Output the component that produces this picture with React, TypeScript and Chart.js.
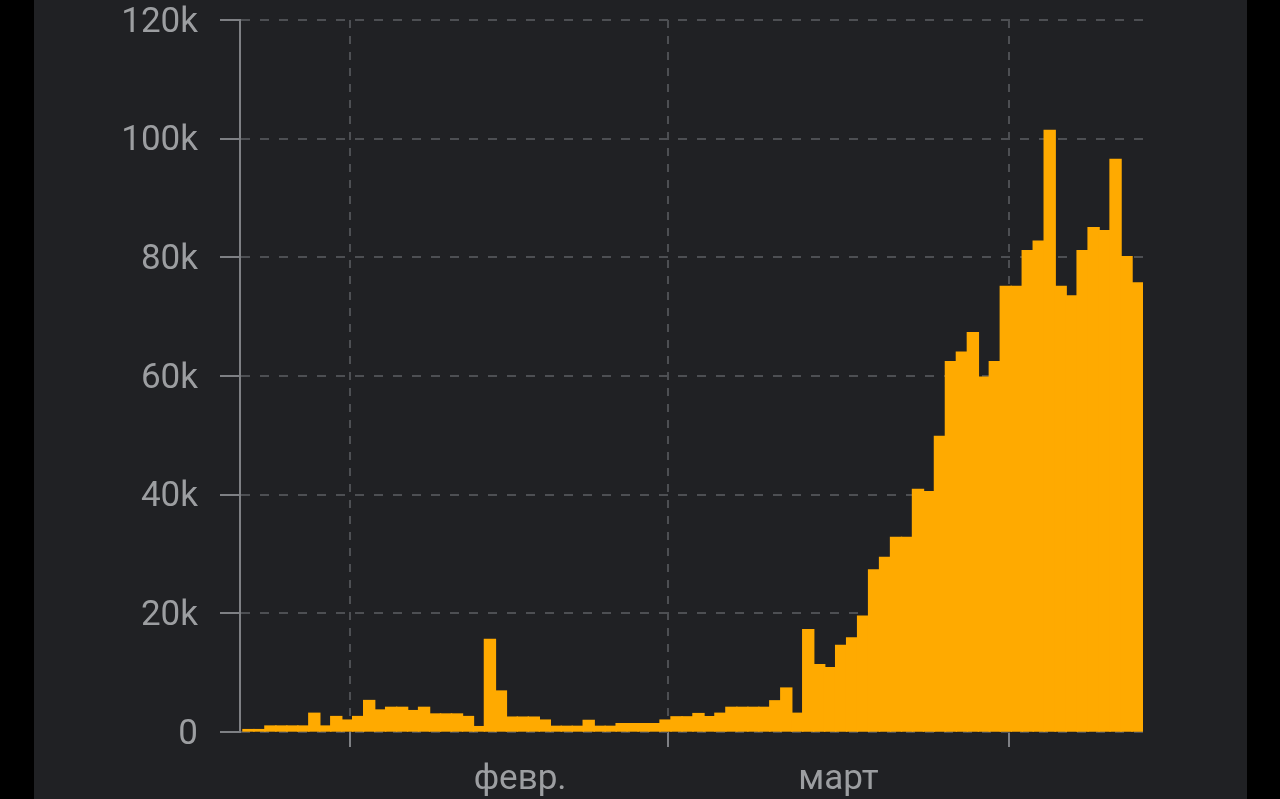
import React, { useEffect, useRef } from 'react';
import { Chart, registerables } from 'chart.js';

Chart.register(...registerables);

// Daily values, one bar per day (day 0 = first bar on the left)
const dailyValues = [
  400, 400, 1000, 1000, 1000, 1000, 3150, 1000, 2600, 2000,
  2600, 5300, 3700, 4150, 4150, 3600, 4150, 3030, 3030, 3030,
  2600, 900, 15600, 6900, 2500, 2500, 2500, 2000, 950, 950,
  950, 1950, 950, 950, 1400, 1400, 1400, 1400, 2000, 2550,
  2550, 3100, 2580, 3150, 4150, 4150, 4150, 4150, 5250, 7400,
  3150, 17250, 11350, 10850, 14600, 15850, 19500, 27300, 29400, 32800,
  32800, 40900, 40500, 49800, 62400, 64000, 67300, 59800, 62400, 75100,
  75100, 81100, 82700, 101400, 75100, 73500, 81100, 85000, 84500, 96500,
  80100, 75700,
];

// Month boundaries (in day-index units) and month label positions
const monthStarts = [9.25, 38.25, 69.25];
const monthLabelAt = [24.75, 53.75];
const monthLabels = ['февр.', 'март'];

const yMax = 120000;
const yStep = 20000;

const BAR = '#FFAA00';
const GRID = '#4d4f53';
const AXIS = '#7e8084';
const TEXT = '#9c9ea1';

export default function App() {
  const ref = useRef<HTMLCanvasElement>(null);

  useEffect(() => {
    document.body.style.margin = '0';
    document.body.style.background = '#000';
    const isStart = (v: number) => monthStarts.some((m) => Math.abs(m - v) < 1e-6);
    const chart = new Chart(ref.current as HTMLCanvasElement, {
      type: 'bar',
      data: {
        datasets: [
          {
            data: dailyValues.map((v, i) => ({ x: i, y: v })),
            backgroundColor: BAR,
            borderWidth: 0,
            barPercentage: 1,
            categoryPercentage: 1,
            inflateAmount: 0.7,
          } as any,
        ],
      },
      options: {
        responsive: false,
        animation: false,
        devicePixelRatio: 1,
        layout: { padding: { top: 20, right: 137, bottom: 0, left: 0 } },
        plugins: { legend: { display: false }, tooltip: { enabled: false } },
        scales: {
          x: {
            type: 'linear',
            min: -0.77,
            max: 81.5,
            offset: false,
            afterBuildTicks: (s: any) => {
              s.ticks = [...monthStarts, ...monthLabelAt]
                .sort((a, b) => a - b)
                .map((v) => ({ value: v }));
            },
            afterFit: (s: any) => {
              s.height = 67;
              s.paddingLeft = 0;
              s.paddingRight = 0;
              s.paddingTop = 0;
              s.paddingBottom = 0;
            },
            grid: {
              offset: false,
              color: (c: any) => (c.tick && isStart(c.tick.value) ? GRID : 'transparent'),
              lineWidth: 2,
              tickLength: 15,
              tickWidth: 2,
              tickColor: (c: any) => (c.tick && isStart(c.tick.value) ? AXIS : 'transparent'),
            },
            border: { display: false, dash: [8, 8] },
            ticks: {
              autoSkip: false,
              maxRotation: 0,
              minRotation: 0,
              padding: 12,
              color: TEXT,
              font: { family: 'Roboto', size: 35, lineHeight: 1.2 },
              callback: (v: any) => {
                const i = monthLabelAt.findIndex((m) => Math.abs(m - Number(v)) < 1e-6);
                return i >= 0 ? monthLabels[i] : '';
              },
            },
          } as any,
          y: {
            type: 'linear',
            min: 0,
            max: yMax,
            afterFit: (s: any) => {
              s.width = 240;
              s.paddingTop = 0;
              s.paddingBottom = 0;
              s.paddingLeft = 0;
              s.paddingRight = 0;
            },
            grid: {
              color: GRID,
              lineWidth: 2,
              tickLength: 20,
              tickWidth: 2,
              tickColor: AXIS,
            },
            border: { display: true, color: AXIS, width: 2, dash: [9, 10] },
            ticks: {
              stepSize: yStep,
              padding: 22,
              color: TEXT,
              font: { family: 'Roboto', size: 35, lineHeight: 6 / 35 },
              callback: (v: any) => ['', Number(v) === 0 ? '0' : Number(v) / 1000 + 'k'],
            },
          } as any,
        },
      },
    });
    return () => chart.destroy();
  }, []);

  return (
    <div style={{ position: 'fixed', inset: 0, background: '#000', overflow: 'hidden' }}>
      <div
        style={{
          position: 'absolute',
          left: 34,
          top: 0,
          width: 1213,
          height: 799,
          background: '#202124',
        }}
      />
      <canvas
        ref={ref}
        width={1280}
        height={799}
        style={{ position: 'absolute', left: 0, top: 0, width: 1280, height: 799 }}
      />
    </div>
  );
}
